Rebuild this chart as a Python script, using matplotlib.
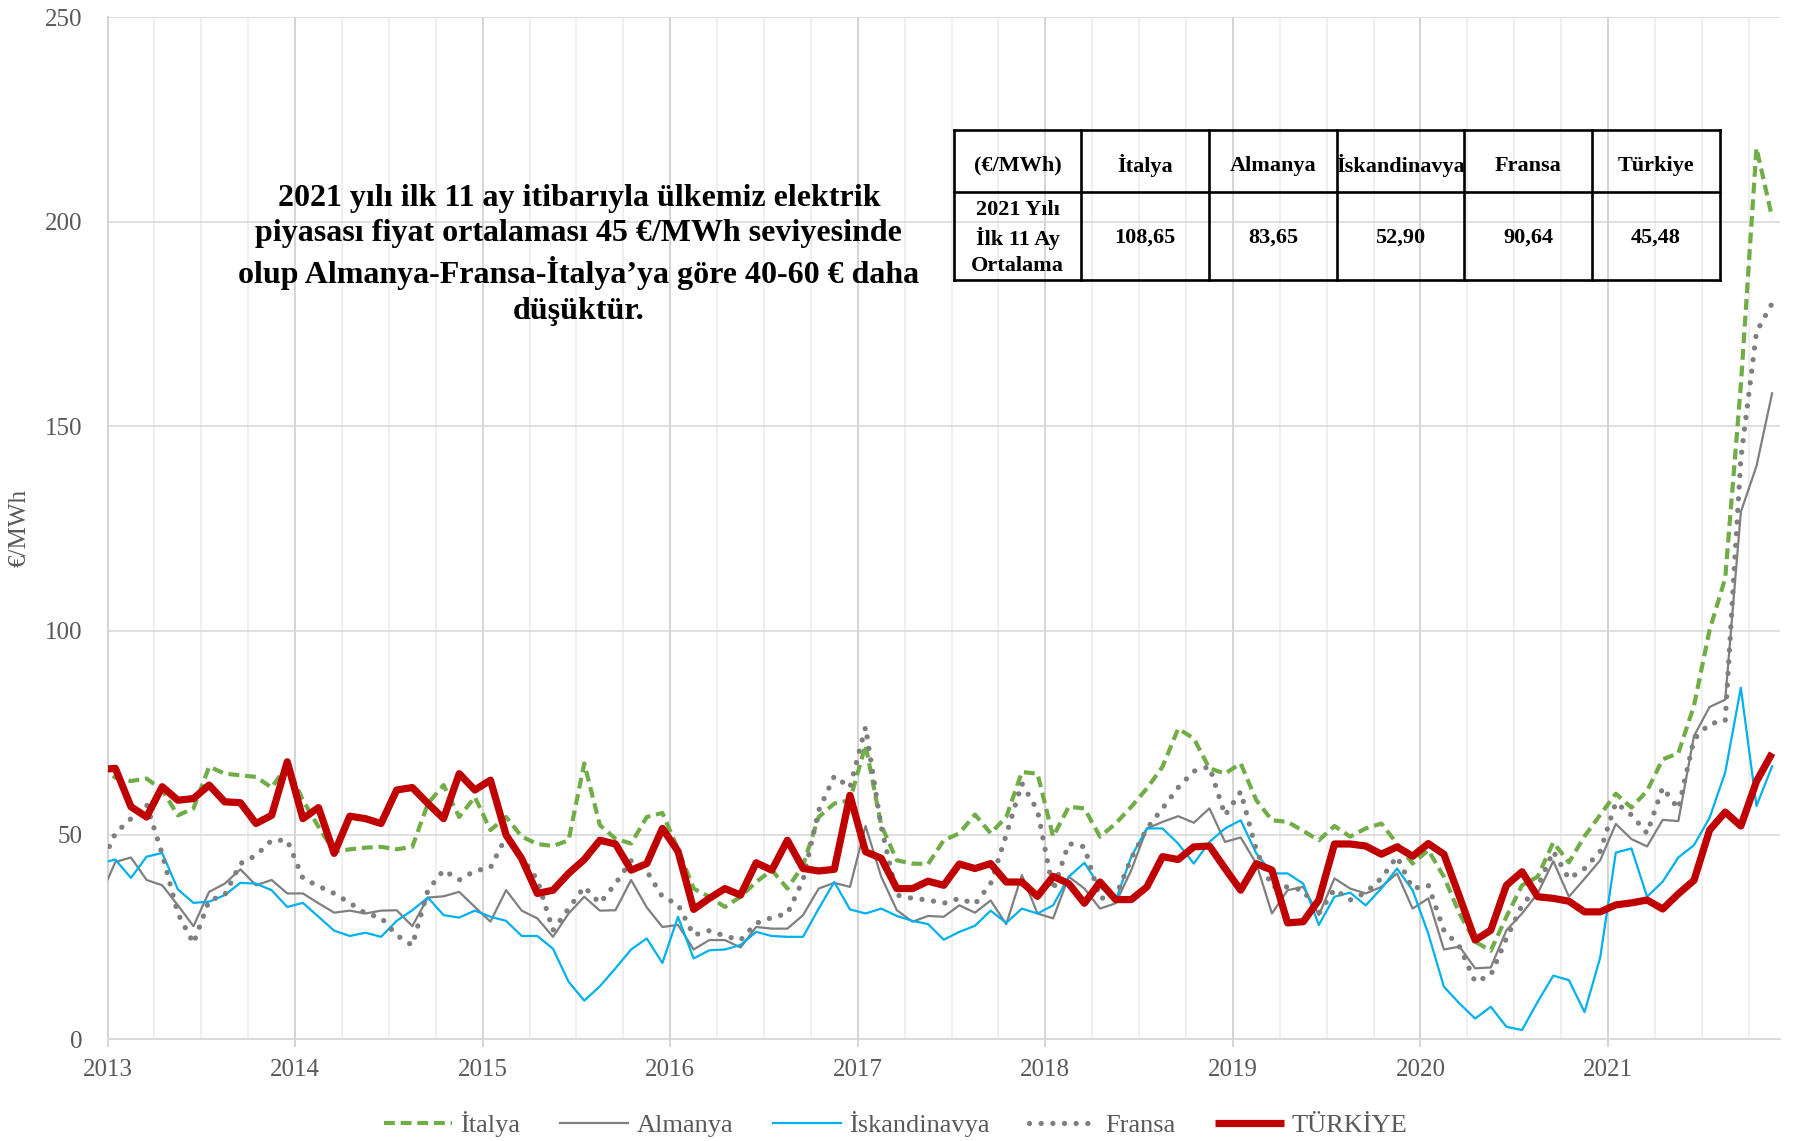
import numpy as np
import matplotlib
matplotlib.use('Agg')
import matplotlib.pyplot as plt
import pandas as pd

# Monthly averages, Dec 2012 .. Nov 2021 (Dec 2012 is only partly visible at the left edge)
months = pd.date_range('2012-12-01', '2021-11-01', freq='MS')

italya = [67, 64, 63.2, 63.8, 61, 54.8, 56.5, 66.7, 65, 64.6, 64.2, 61.6, 67,
          58.5, 52, 45.9, 46.5, 46.9, 47.1, 46.5, 47.1, 57.7, 62.2, 54.4, 59.3,
          51.2, 54.4, 49.6, 47.8, 47.3, 48.7, 67.5, 52.4, 49.1, 47.9, 54.4, 55.4,
          46.5, 36.9, 34.9, 32.4, 34.9, 38.5, 41.4, 36.9, 42.6, 54.4, 57.7, 58.5,
          72, 52.4, 43.8, 43, 42.9, 48.7, 50.4, 55, 50.4, 54.4, 65.4, 65,
          49.6, 56.9, 56.5, 49.6, 52.8, 56.9, 61.4, 66.7, 76, 73.6, 66.3, 65,
          67.5, 58.5, 53.6, 53.2, 51, 48.7, 52.2, 49.6, 51.6, 52.8, 47.9, 43,
          46.3, 39.8, 30.8, 23.9, 21.7, 30, 37.7, 39.8, 48.2, 43.3, 49.7, 54.9,
          60.1, 56.7, 60.8, 68.5, 70, 81.6, 100.1, 112.8, 160, 218, 201]

almanya = [34.6, 43.4, 44.5, 39, 37.7, 32.8, 27.7, 36.1, 38.1, 41.6, 37.7, 39, 35.7,
           35.7, 33.3, 31, 31.5, 30.8, 31.5, 31.6, 27.7, 34.7, 35, 36.1, 32.4,
           28.8, 36.5, 31.5, 29.6, 25.1, 30.8, 34.9, 31.5, 31.6, 39, 32.3, 27.5,
           28, 22, 24.3, 24.3, 22.5, 27.5, 27.1, 27.1, 30.4, 36.9, 38.3, 37.3,
           52.2, 39.8, 31.6, 28.8, 30.2, 30, 32.8, 31, 34, 28.2, 40.2, 30.8,
           29.6, 39.8, 36.9, 32, 33.3, 41.4, 51.6, 53.2, 54.6, 53, 56.5, 48.3,
           49.4, 43, 30.8, 36.5, 37.3, 30.4, 39.4, 36.9, 35.7, 37.3, 40.6, 32,
           34.5, 22, 22.7, 17.4, 17.6, 26.7, 30.8, 35.7, 43.6, 34.9, 39.3, 43.8,
           52.7, 49, 47.2, 53.7, 53.4, 74.2, 81.3, 83.1, 129, 140.2, 158]

iskandinavya = [43, 44, 39.5, 44.7, 45.6, 36.7, 33.4, 33.7, 35.3, 38.3, 38.1, 36.5, 32.4,
                33.4, 30, 26.6, 25.3, 26.1, 25.1, 29, 31.6, 34.7, 30.4, 29.8, 31.5,
                30, 29, 25.3, 25.3, 22.2, 14.1, 9.5, 13, 17.4, 22, 24.7, 18.7,
                30, 19.8, 21.8, 22, 23.1, 26.3, 25.3, 25.1, 25.1, 32, 38.5, 31.8,
                30.8, 32, 30.2, 29, 28.2, 24.4, 26.3, 27.8, 31.5, 28.5, 32, 30.8,
                32.8, 39.8, 43.2, 37.3, 34, 44.7, 51.6, 51.6, 47.9, 43, 48.3, 51.6,
                53.6, 45.5, 40.6, 40.6, 38.1, 28, 34.9, 35.9, 32.8, 36.9, 41.8, 36.5,
                25.9, 12.9, 8.8, 5.1, 8, 3.1, 2.3, 9.2, 15.6, 14.5, 6.7, 20,
                45.7, 46.7, 34.9, 38.6, 44.5, 47.5, 54.2, 65.3, 86, 57.1, 66.8]

fransa = [42, 50.4, 54, 57.5, 45.3, 30.8, 23.5, 34, 35.3, 43, 45, 48.7, 48.7,
          39.4, 37.5, 35.7, 33.4, 30.8, 29.8, 25.5, 23, 36.5, 41.4, 39, 41.2,
          42, 49.6, 44.7, 39, 26.7, 32, 37.3, 33.3, 38.1, 43.7, 41.2, 34.9,
          33, 25.5, 26.6, 25.3, 24.3, 28.4, 29.8, 30.8, 39, 56, 64.4, 61.6,
          76.4, 52, 35.3, 34.5, 34.1, 33.3, 34.5, 33.1, 38.1, 50, 62.6, 56,
          36.5, 47.9, 47.1, 34.5, 34.9, 44.3, 51.6, 56.5, 61.6, 65.6, 66.7, 54.8,
          60.6, 46.3, 37.3, 37.3, 36.5, 30.8, 36.7, 34.1, 35.9, 39.4, 44.7, 36.9,
          37.7, 26.7, 22.7, 14.1, 15.7, 24.7, 32.8, 37.3, 46, 39.3, 41.8, 46,
          57.9, 54.9, 50.4, 61.6, 56.4, 73.4, 77.2, 77.9, 142, 173, 180]

turkiye = [66, 66.3, 56.9, 54.4, 61.8, 58.5, 58.9, 62.2, 58.1, 57.9, 52.8, 54.8, 67.9,
           54, 56.7, 45.5, 54.6, 54, 52.8, 61, 61.6, 57.7, 54, 65, 61,
           63.4, 50, 44.2, 35.7, 36.5, 40.6, 44, 48.7, 47.8, 41.4, 43, 51.6,
           46, 31.8, 34.5, 36.9, 35.3, 43.2, 41.4, 48.7, 41.8, 41.2, 41.6, 59.7,
           45.9, 44.3, 36.9, 36.9, 38.7, 37.7, 42.9, 41.8, 43, 38.5, 38.5, 35,
           39.9, 38.1, 33.3, 38.5, 34.2, 34.2, 37.3, 44.7, 44, 47.1, 47.3, 41.8,
           36.5, 43, 41.4, 28.5, 28.8, 34.1, 47.8, 47.8, 47.3, 45.3, 47.1, 44.8,
           47.9, 45.3, 34.9, 24.3, 26.7, 37.7, 41, 34.9, 34.5, 33.8, 31.2, 31.2,
           32.9, 33.4, 34.1, 31.9, 35.6, 38.9, 51.2, 55.6, 52.2, 63.1, 70]

year_labels = ['2013', '2014', '2015', '2016', '2017', '2018', '2019', '2020', '2021']
series_names = ['İtalya', 'Almanya', 'İskandinavya', 'Fransa', 'TÜRKİYE']

table_header = ['(€/MWh)', 'İtalya', 'Almanya', 'İskandinavya', 'Fransa', 'Türkiye']
table_row = ['2021 Yılı\nİlk 11 Ay\nOrtalama', '108,65', '83,65', '52,90', '90,64', '45,48']

annotation = ("2021 yılı ilk 11 ay itibarıyla ülkemiz elektrik\n"
              "piyasası fiyat ortalaması 45 €/MWh seviyesinde\n"
              "olup Almanya-Fransa-İtalya’ya göre 40-60 € daha\n"
              "düşüktür.")

# x position: months since Jan 2013, points drawn mid-month
x = np.array((months.year - 2013) * 12 + (months.month - 1)) + 0.5

plt.rcParams['font.family'] = ['Liberation Serif', 'DejaVu Serif']

fig = plt.figure(figsize=(17.95, 11.41), dpi=100)
ax = fig.add_axes([0.0599, 0.089, 0.9317, 0.896])

ax.plot(x, italya, color='#70ad47', lw=3.0, dashes=(2.6, 1.4), label=series_names[0], zorder=3)
ax.plot(x, almanya, color='#7f7f7f', lw=1.6, label=series_names[1], zorder=3)
ax.plot(x, iskandinavya, color='#00b0f0', lw=1.6, label=series_names[2], zorder=3)
ax.plot(x, fransa, color='#7f7f7f', lw=3.8, linestyle=(0, (0.01, 2.2)),
        dash_capstyle='round', label=series_names[3], zorder=3)
ax.plot(x, turkiye, color='#c00000', lw=5.2, solid_joinstyle='round',
        solid_capstyle='butt', label=series_names[4], zorder=4)

ax.set_xlim(0, 107)
ax.set_ylim(0, 250)
ax.set_xticks(np.arange(0, 12 * len(year_labels), 12))
ax.set_xticklabels(year_labels)
ax.set_xticks(np.arange(0, 107, 3), minor=True)
ax.set_yticks(np.arange(0, 251, 50))

ax.grid(axis='x', which='minor', color='#ececec', lw=1.2, zorder=0)
ax.grid(axis='x', which='major', color='#d4d4d4', lw=1.4, zorder=0)
ax.grid(axis='y', which='major', color='#d9d9d9', lw=1.2, zorder=0)
ax.set_axisbelow(True)

ax.tick_params(axis='x', which='major', length=6, width=1.4, color='#d4d4d4',
               labelsize=18, labelcolor='#595959', pad=8)
ax.tick_params(axis='x', which='minor', length=0)
ax.tick_params(axis='y', length=0, labelsize=18, labelcolor='#595959', pad=18)

for s in ['top', 'right']:
    ax.spines[s].set_visible(False)
ax.spines['left'].set_color('#d4d4d4')
ax.spines['left'].set_linewidth(1.4)
ax.spines['bottom'].set_color('#d9d9d9')
ax.spines['bottom'].set_linewidth(1.4)

ax.set_ylabel('€/MWh', fontsize=18, color='#595959')
ax.yaxis.set_label_coords(-0.046, 0.5)

leg = fig.legend(loc='center', bbox_to_anchor=(0.499, 0.015), ncol=5, frameon=False,
                 fontsize=19, handlelength=2.6, columnspacing=1.5, handletextpad=0.3)
for t in leg.get_texts():
    t.set_color('#595959')

fig.text(0.3225, 0.7768, annotation, ha='center', va='center', fontsize=23,
         fontweight='bold', multialignment='center', linespacing=1.3)

# Table
tax = fig.add_axes([0.5313, 0.7542, 0.4267, 0.1315])
tax.set_xlim(0, len(table_header))
tax.set_ylim(0, 1)
tax.axis('off')
split = 0.587
lw_t = 1.9
tax.plot([0, 6], [0, 0], color='black', lw=lw_t, clip_on=False)
tax.plot([0, 6], [1, 1], color='black', lw=lw_t, clip_on=False)
tax.plot([0, 6], [split, split], color='black', lw=lw_t, clip_on=False)
for c in range(len(table_header) + 1):
    tax.plot([c, c], [0, 1], color='black', lw=lw_t, clip_on=False)
for c, (h, v) in enumerate(zip(table_header, table_row)):
    tax.text(c + 0.5, (1 + split) / 2 - 0.03, h, ha='center', va='center', fontsize=16,
             fontweight='bold')
    tax.text(c + 0.5, split / 2 - 0.01, v, ha='center', va='center', fontsize=16,
             fontweight='bold', linespacing=1.4)

fig.savefig('out.png', dpi=100)
